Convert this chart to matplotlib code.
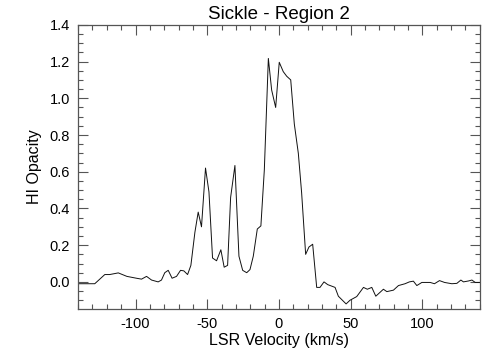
import matplotlib
matplotlib.use('Agg')
import matplotlib.pyplot as plt
from matplotlib.ticker import MultipleLocator

# ── Data ─────────────────────────────────────────────────────────────────────
velocity = [-140, -128.4, -121.4, -118, -112, -106, -99.4, -95.8, -92.3, -88.8,
            -84.2, -81.9, -79.6, -77.2, -74.5, -71.4, -68.6, -66.3, -63.7, -61.4,
            -58.6, -56.3, -54, -51.2, -48.8, -46.3, -43.5, -40.5, -38.2, -35.8,
            -33.7, -30.7, -27.9, -25.3, -22.5, -20.2, -17.9, -15.1, -12.6, -10.2,
            -7.4, -5.1, -2.3, 0.2, 3.0, 5.4, 8.2, 10.7, 13.5, 15.8,
            18.6, 20.9, 23.5, 26.3, 28.6, 31.4, 34, 39.1, 41.4, 46.8,
            49.5, 54.2, 58.9, 61.6, 64.7, 67.5, 72.8, 75.2, 79.8, 83.3,
            87.9, 90.9, 93.7, 96.1, 99.6, 105.4, 108.4, 111.9, 115.4, 120.5,
            124, 126.8, 128.6, 132.1, 134.5, 136.8, 140.3]
opacity = [-0.01, -0.01, 0.04, 0.04, 0.049, 0.03, 0.02, 0.015, 0.03, 0.01,
           0.0, 0.01, 0.05, 0.063, 0.02, 0.03, 0.063, 0.06, 0.04, 0.09,
           0.27, 0.38, 0.30, 0.62, 0.49, 0.13, 0.115, 0.175, 0.08, 0.09,
           0.46, 0.634, 0.14, 0.063, 0.05, 0.067, 0.14, 0.288, 0.305, 0.61,
           1.217, 1.045, 0.95, 1.196, 1.145, 1.12, 1.10, 0.86, 0.70, 0.485,
           0.15, 0.19, 0.205, -0.03, -0.03, 0.0, -0.015, -0.03, -0.078, -0.12,
           -0.10, -0.08, -0.03, -0.04, -0.03, -0.078, -0.04, -0.053, -0.045, -0.02,
           -0.01, 0.0, 0.004, -0.02, -0.003, -0.003, -0.01, 0.007, -0.003, -0.01,
           -0.008, 0.01, 0.0, 0.005, 0.01, -0.003, -0.003]

# ── Plot ──────────────────────────────────────────────────────────────────────
plt.rcParams['font.family'] = ['Liberation Sans', 'DejaVu Sans']
plt.rcParams['axes.unicode_minus'] = False

fig = plt.figure(figsize=(5.04, 3.6), dpi=100)
ax = fig.add_axes([0.155, 0.142, 0.797, 0.789])

ax.plot(velocity, opacity, color='#111111', linewidth=0.7)

ax.set_xlim(-140, 140)
ax.set_ylim(-0.147, 1.4)
ax.xaxis.set_major_locator(MultipleLocator(50))
ax.xaxis.set_minor_locator(MultipleLocator(10))
ax.yaxis.set_major_locator(MultipleLocator(0.2))
ax.yaxis.set_minor_locator(MultipleLocator(0.05))
ax.yaxis.set_major_formatter(plt.FormatStrFormatter('%.1f'))

ax.tick_params(which='both', direction='in', top=True, right=True,
               color='#555555', labelsize=10.5, pad=6)
ax.tick_params(which='major', length=7, width=0.8)
ax.tick_params(which='minor', length=3.5, width=0.8)
for s in ax.spines.values():
    s.set_color('#555555')
    s.set_linewidth(0.9)

ax.set_title('Sickle - Region 2', fontsize=13.5, pad=4)
ax.set_xlabel('LSR Velocity (km/s)', fontsize=11.5, labelpad=1)
ax.set_ylabel('HI Opacity', fontsize=11.5, labelpad=5)

plt.savefig('out.png', dpi=100)
